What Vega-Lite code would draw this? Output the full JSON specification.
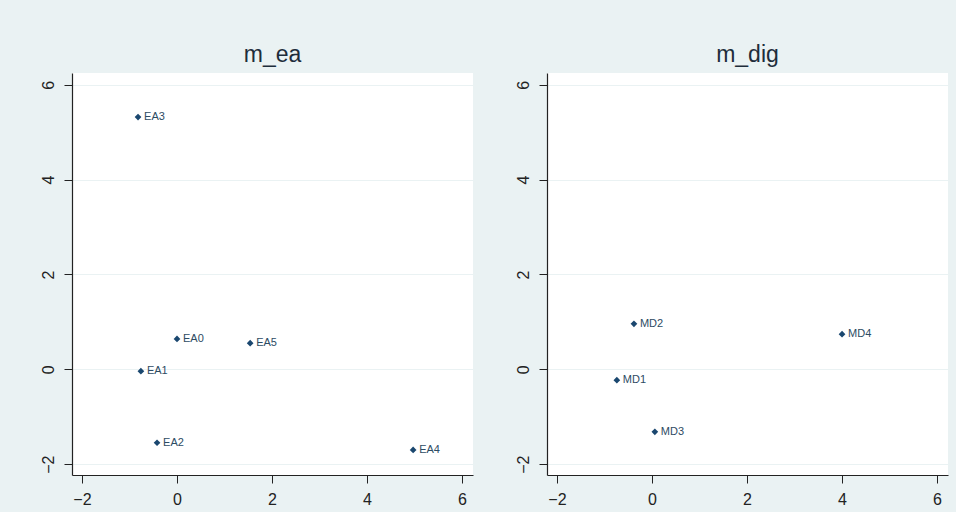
{
  "$schema": "https://vega.github.io/schema/vega-lite/v6.json",
  "background": "#eaf2f3",
  "padding": {"left": 40, "top": 44, "right": 8, "bottom": 5},
  "spacing": 42,
  "datasets": {
    "ea": [
      {"x": -0.82, "y": 5.32, "label": "EA3"},
      {"x": 0.0, "y": 0.64, "label": "EA0"},
      {"x": 1.54, "y": 0.55, "label": "EA5"},
      {"x": -0.76, "y": -0.04, "label": "EA1"},
      {"x": -0.42, "y": -1.55, "label": "EA2"},
      {"x": 4.97, "y": -1.70, "label": "EA4"}
    ],
    "dig": [
      {"x": -0.38, "y": 0.96, "label": "MD2"},
      {"x": 4.0, "y": 0.74, "label": "MD4"},
      {"x": -0.74, "y": -0.23, "label": "MD1"},
      {"x": 0.06, "y": -1.32, "label": "MD3"}
    ]
  },
  "config": {
    "font": "Liberation Sans",
    "view": {"fill": "white", "stroke": null},
    "title": {"fontSize": 23, "fontWeight": "normal", "color": "#1e2d3b", "offset": 6},
    "axis": {
      "domainColor": "#222222",
      "tickColor": "#222222",
      "labelColor": "#222222",
      "domainWidth": 1.2,
      "tickSize": 8,
      "title": null
    }
  },
  "hconcat": [
    {
      "title": "m_ea",
      "width": 401,
      "height": 402,
      "data": {"name": "ea"},
      "encoding": {
        "x": {"field": "x", "type": "quantitative", "scale": {"domain": [-2.21, 6.23], "nice": false, "zero": false},
              "axis": {"values": [-2, 0, 2, 4, 6], "grid": false, "labelFontSize": 16, "labelPadding": 8}},
        "y": {"field": "y", "type": "quantitative", "scale": {"domain": [-2.23, 6.25], "nice": false, "zero": false},
              "axis": {"values": [-2, 0, 2, 4, 6], "grid": true, "gridColor": "#eaf2f3", "labelAngle": 270, "labelAlign": "center", "labelBaseline": "bottom", "labelFontSize": 16, "labelPadding": 8}}
      },
      "layer": [
        {"mark": {"type": "point", "shape": "diamond", "filled": true, "size": 45, "color": "#1a476f", "opacity": 1}},
        {"mark": {"type": "text", "align": "left", "baseline": "middle", "dx": 6, "fontSize": 11, "color": "#2d4b63"},
         "encoding": {"text": {"field": "label"}}}
      ]
    },
    {
      "title": "m_dig",
      "width": 401,
      "height": 402,
      "data": {"name": "dig"},
      "encoding": {
        "x": {"field": "x", "type": "quantitative", "scale": {"domain": [-2.21, 6.23], "nice": false, "zero": false},
              "axis": {"values": [-2, 0, 2, 4, 6], "grid": false, "labelFontSize": 16, "labelPadding": 8}},
        "y": {"field": "y", "type": "quantitative", "scale": {"domain": [-2.23, 6.25], "nice": false, "zero": false},
              "axis": {"values": [-2, 0, 2, 4, 6], "grid": true, "gridColor": "#eaf2f3", "labelAngle": 270, "labelAlign": "center", "labelBaseline": "bottom", "labelFontSize": 16, "labelPadding": 8}}
      },
      "layer": [
        {"mark": {"type": "point", "shape": "diamond", "filled": true, "size": 45, "color": "#1a476f", "opacity": 1}},
        {"mark": {"type": "text", "align": "left", "baseline": "middle", "dx": 6, "fontSize": 11, "color": "#2d4b63"},
         "encoding": {"text": {"field": "label"}}}
      ]
    }
  ]
}
